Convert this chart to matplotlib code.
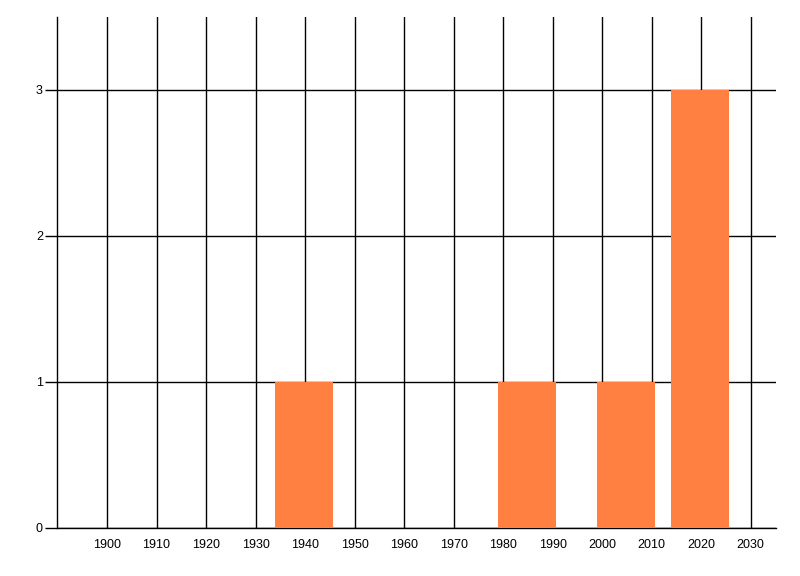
import matplotlib
matplotlib.use("Agg")
import matplotlib.pyplot as plt

# data
bin_centers = [1939.8, 1984.8, 2004.8, 2019.8]
counts = [1, 1, 1, 3]
bin_width = 11.8
x_ticks = list(range(1900, 2031, 10))
y_ticks = [0, 1, 2, 3]

plt.rcParams['font.family'] = ['Liberation Sans', 'DejaVu Sans']

fig = plt.figure(figsize=(8, 5.76), dpi=100)
W, H = 800, 576
left, right, top, bottom = 57.5, 775.5, 17, 528
ax = fig.add_axes([left / W, 1 - bottom / H, (right - left) / W, (bottom - top) / H])

ax.bar(bin_centers, counts, width=bin_width, color='#FF8040', zorder=3, linewidth=0)

ax.set_xlim(1890, 2035)
ax.set_ylim(0, 3.5)
ax.set_xticks(x_ticks)
ax.set_xticklabels([str(t) for t in x_ticks])
ax.set_yticks(y_ticks)
ax.set_yticklabels([str(t) for t in y_ticks])

lw = 1.0
ax.grid(True, color='black', linewidth=lw, zorder=1)
ax.set_axisbelow(True)

for s in ['top', 'right']:
    ax.spines[s].set_visible(False)
for s in ['left', 'bottom']:
    ax.spines[s].set_linewidth(lw)
    ax.spines[s].set_color('black')

ax.tick_params(axis='x', length=0, pad=8, labelsize=9, colors='black')
ax.tick_params(axis='y', length=8.5, width=lw, pad=2, labelsize=9, colors='black')

fig.savefig('out.png', dpi=100, facecolor='white')
